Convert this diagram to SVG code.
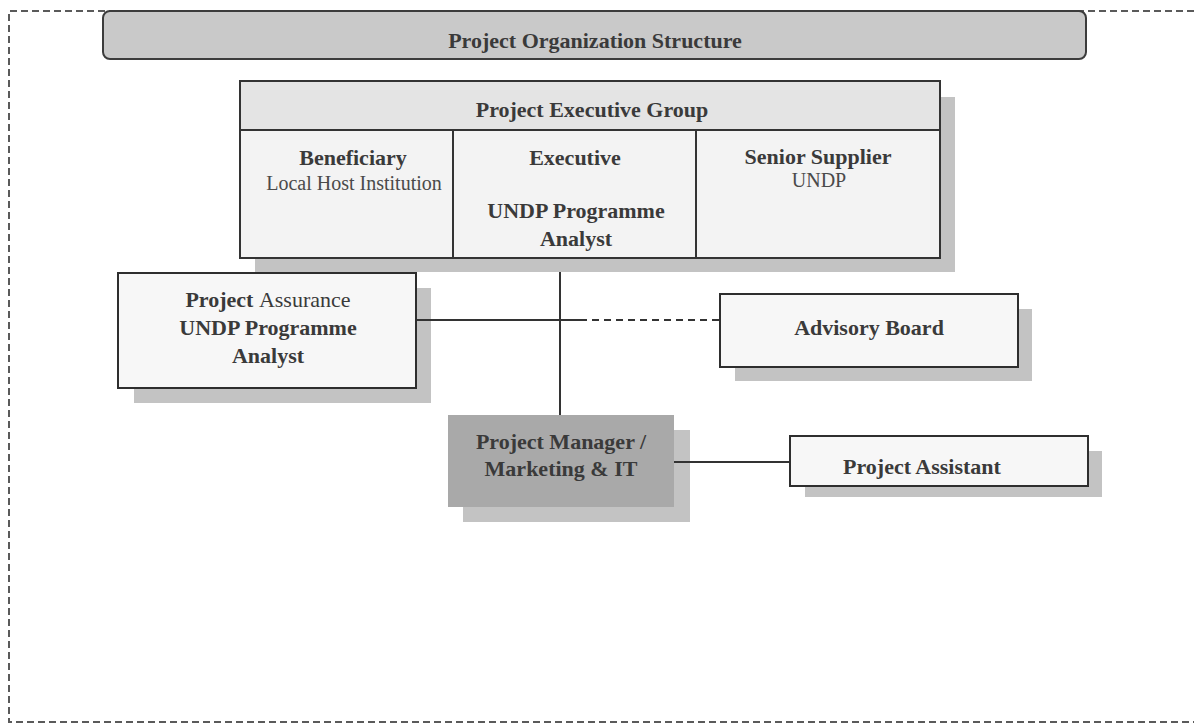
<svg xmlns="http://www.w3.org/2000/svg" width="1194" height="726" viewBox="0 0 1194 726">
  <style>
    .frame { fill: none; stroke: #5a5a5a; stroke-width: 2; stroke-dasharray: 7 4; }
    .shadow { fill: #c3c3c3; }
    .box { fill: #f7f7f7; stroke: #2e2e2e; stroke-width: 2; }
    .cell { fill: #f3f3f3; stroke: #333; stroke-width: 2; }
    .head { fill: #e4e4e4; stroke: #333; stroke-width: 2; }
    .title { fill: #c9c9c9; stroke: #3c3c3c; stroke-width: 2; }
    .mgr { fill: #a9a9a9; }
    .b { font-family: "Liberation Serif", "Times New Roman", serif; font-weight: bold; font-size: 22px; fill: #3a3a3a; text-anchor: middle; }
    .r { font-family: "Liberation Serif", "Times New Roman", serif; font-weight: normal; font-size: 20px; fill: #4a4a4a; text-anchor: middle; }
    .n { font-weight: normal; }
    .link { stroke: #333; stroke-width: 2; fill: none; }
    .dash { stroke-dasharray: 7 5; }
  </style>

  <!-- outer dashed frame -->
  <path class="frame" d="M1194 11 H9 V722 H1194"/>

  <!-- heading bar -->
  <g id="heading">
    <rect class="title" x="103" y="11" width="983" height="48" rx="7"/>
    <text class="b" x="595" y="48">Project Organization Structure</text>
  </g>

  <!-- executive group table -->
  <g id="executive-group">
    <rect class="shadow" x="255" y="97" width="700" height="175"/>
    <rect class="head" x="240" y="81" width="700" height="49"/>
    <rect class="cell" x="240" y="130" width="213" height="128"/>
    <rect class="cell" x="453" y="130" width="243" height="128"/>
    <rect class="cell" x="696" y="130" width="244" height="128"/>
    <text class="b" x="592" y="117">Project Executive Group</text>
  </g>
  <g id="beneficiary">
    <text class="b" x="353" y="165">Beneficiary</text>
    <text class="r" x="354" y="190">Local Host Institution</text>
  </g>
  <g id="executive">
    <text class="b" x="575" y="165">Executive</text>
    <text class="b" x="576" y="218">UNDP Programme</text>
    <text class="b" x="576" y="246">Analyst</text>
  </g>
  <g id="senior-supplier">
    <text class="b" x="818" y="164">Senior Supplier</text>
    <text class="r" x="819" y="187">UNDP</text>
  </g>

  <!-- project assurance -->
  <g id="project-assurance">
    <rect class="shadow" x="134" y="288" width="297" height="115"/>
    <rect class="box" x="118" y="273" width="298" height="115"/>
    <text class="b" x="268" y="307">Project <tspan class="n">Assurance</tspan></text>
    <text class="b" x="268" y="335">UNDP Programme</text>
    <text class="b" x="268" y="363">Analyst</text>
  </g>

  <!-- advisory board -->
  <g id="advisory-board">
    <rect class="shadow" x="735" y="309" width="297" height="72"/>
    <rect class="box" x="720" y="294" width="298" height="73"/>
    <text class="b" x="869" y="335">Advisory Board</text>
  </g>

  <!-- project manager -->
  <g id="project-manager">
    <rect class="shadow" x="463" y="430" width="227" height="92"/>
    <rect class="mgr" x="448" y="415" width="226" height="92"/>
    <text class="b" x="561" y="449" fill="#333">Project Manager /</text>
    <text class="b" x="561" y="476" fill="#333">Marketing &amp; IT</text>
  </g>

  <!-- project assistant -->
  <g id="project-assistant">
    <rect class="shadow" x="805" y="451" width="297" height="46"/>
    <rect class="box" x="790" y="436" width="298" height="50"/>
    <text class="b" x="922" y="474">Project Assistant</text>
  </g>

  <!-- connectors, drawn over the drop shadows -->
  <g id="connectors">
    <line class="link" x1="560" y1="272" x2="560" y2="415"/>
    <line class="link" x1="417" y1="320" x2="580" y2="320"/>
    <line class="link dash" x1="580" y1="320" x2="719" y2="320"/>
    <line class="link" x1="674" y1="462" x2="789" y2="462"/>
  </g>
</svg>
